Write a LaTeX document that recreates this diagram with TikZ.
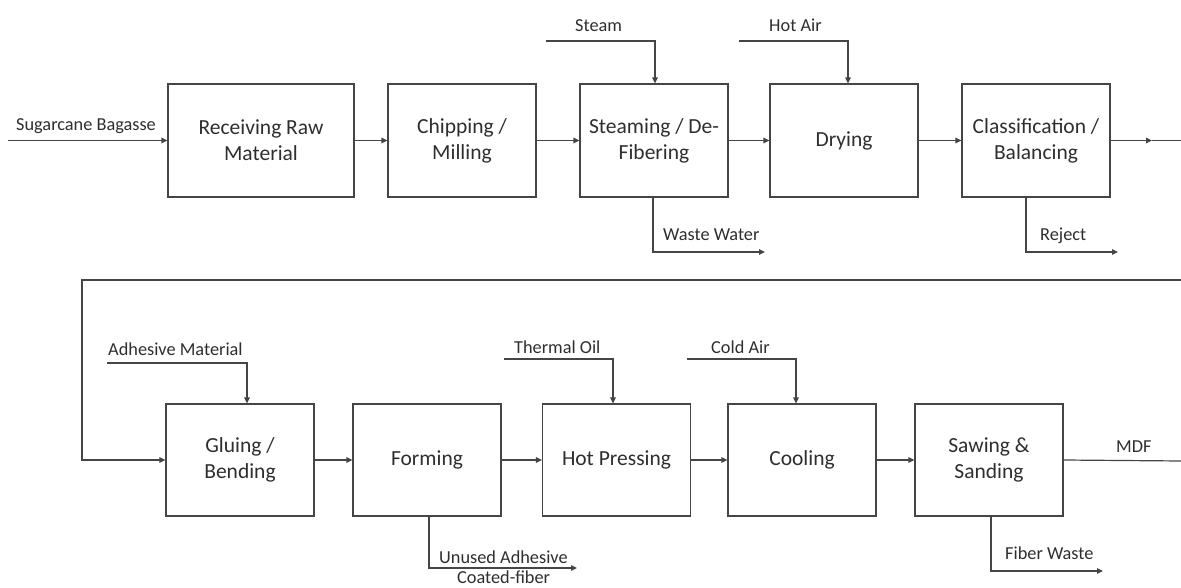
\documentclass[tikz,border=0pt]{standalone}
\usepackage{fontspec}
\setmainfont{Carlito}
\usetikzlibrary{arrows.meta,calc}
\definecolor{linec}{HTML}{454545}
\definecolor{textc}{HTML}{2E2E2E}
\begin{document}
\begin{tikzpicture}[x=1pt,y=-1pt,
  box/.style={draw=linec,line width=1.2pt,inner sep=0pt,minimum width=148pt,minimum height=113pt,align=center,font=\fontsize{21.5}{26}\selectfont,text=textc},
  lab/.style={inner sep=0pt,font=\fontsize{18.3}{22}\selectfont,text=textc},
  conn/.style={draw=linec,line width=1.2pt},
  arr/.style={conn,-{Triangle[length=6pt,width=5.5pt]}}]
\useasboundingbox (0,0) rectangle (1181,588);
% top row
\node[box,minimum width=186pt] (b1) at (261,140.5) {Receiving Raw\\Material};
\node[box] (b2) at (462,140.5) {Chipping /\\Milling};
\node[box] (b3) at (654,140.5) {Steaming / De-\\Fibering};
\node[box] (b4) at (844,140.5) {Drying};
\node[box] (b5) at (1036,140.5) {Classification /\\Balancing};
% bottom row
\node[box,minimum height=112pt] (g1) at (240,460) {Gluing /\\Bending};
\node[box,minimum height=112pt] (g2) at (427,460) {Forming};
\node[box,minimum height=112pt] (g3) at (616.5,460) {Hot Pressing};
\node[box,minimum height=112pt] (g4) at (802,460) {Cooling};
\node[box,minimum height=112pt] (g5) at (989,460) {Sawing \&\\Sanding};
% labels
\node[lab,anchor=base west] (lsug) at (16,131) {Sugarcane Bagasse};
\node[lab,anchor=base west] (lste) at (575,32) {Steam};
\node[lab,anchor=base west] (lhot) at (769,32) {Hot Air};
\node[lab,anchor=base west] (lww) at (663,241) {Waste Water};
\node[lab,anchor=base west] (lrej) at (1040,241) {Reject};
\node[lab,anchor=base west] (ladh) at (108,355) {Adhesive Material};
\node[lab,anchor=base west] (lthe) at (514,353) {Thermal Oil};
\node[lab,anchor=base west] (lcol) at (711,353) {Cold Air};
\node[lab,anchor=base west] (luna) at (439,563) {Unused Adhesive};
\node[lab,anchor=base west] (lunb) at (457,583) {Coated-fiber};
\node[lab,anchor=base west] (lfib) at (1005,559) {Fiber Waste};
\node[lab,anchor=base west] (lmdf) at (1116,452) {MDF};
% free ends
\coordinate (sin) at (8,140.5);
\coordinate (ste) at (546,41);
\coordinate (hot) at (739,41);
\coordinate (ww) at (765,252);
\coordinate (rej) at (1118,252);
\coordinate (m1) at (1152,140.5);
\coordinate (e1) at (1181,140.5);
\coordinate (e2) at (1181,280);
\coordinate (c1) at (82,280);
\coordinate (adh) at (107,363);
\coordinate (the) at (504,359);
\coordinate (col) at (687,359);
\coordinate (una) at (577,568);
\coordinate (fib) at (1103,571);
\coordinate (mdf) at (1181,461);
% main flow
\draw[arr] (sin) -- (b1.west);
\draw[arr] (b1) -- (b2);
\draw[arr] (b2) -- (b3);
\draw[arr] (b3) -- (b4);
\draw[arr] (b4) -- (b5);
\draw[arr] (b5.east) -- (m1);
\draw[conn] (m1) -- (e1);
\draw[arr] (e2) -- (c1) |- (g1.west);
\draw[arr] (g1) -- (g2);
\draw[arr] (g2) -- (g3);
\draw[arr] (g3) -- (g4);
\draw[arr] (g4) -- (g5);
\draw[conn] (g5.east) -- (mdf);
% side streams
\draw[arr] (ste) -| ([xshift=1pt]b3.north);
\draw[arr] (hot) -| ([xshift=4pt]b4.north);
\draw[arr] ([xshift=-1pt]b3.south) |- (ww);
\draw[arr] ([xshift=-10pt]b5.south) |- (rej);
\draw[arr] (adh) -| ([xshift=7pt]g1.north);
\draw[arr] (the) -| ([xshift=-3.5pt]g3.north);
\draw[arr] (col) -| ([xshift=-6pt]g4.north);
\draw[arr] ([xshift=2pt]g2.south) |- (una);
\draw[arr] ([xshift=2pt]g5.south) |- (fib);
\end{tikzpicture}
\end{document}
